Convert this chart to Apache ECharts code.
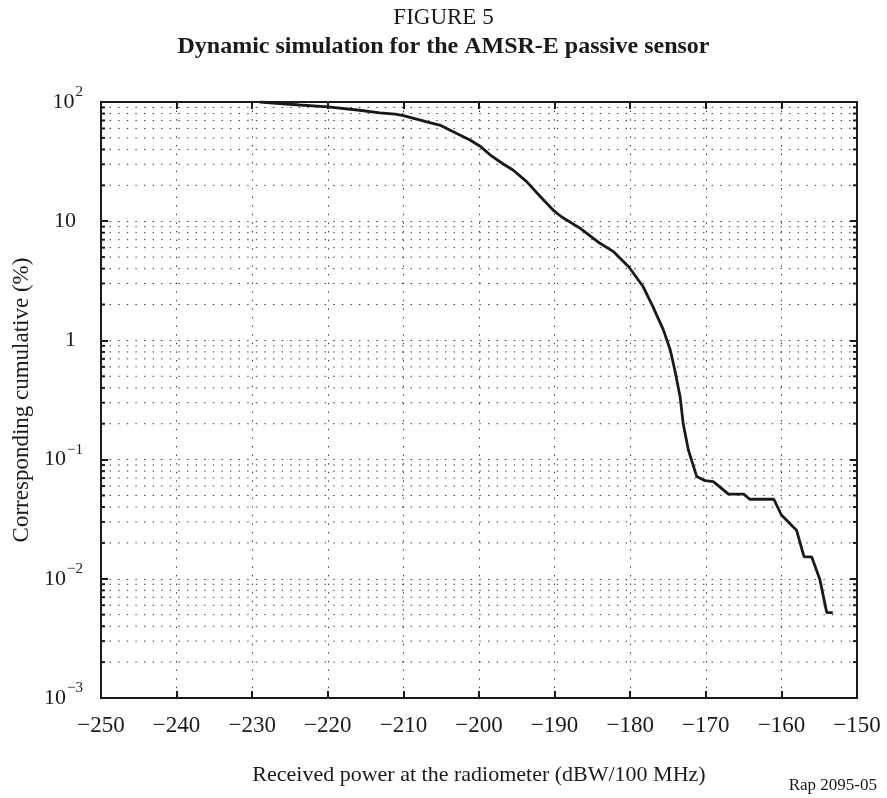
<!DOCTYPE html>
<html>
<head>
<meta charset="utf-8">
<script src="https://cdn.jsdelivr.net/npm/echarts@6/dist/echarts.min.js"></script>
<style>
  html, body { margin: 0; padding: 0; background: #fff; }
  #chart { width: 887px; height: 798px; }
</style>
</head>
<body>
<div id="chart"></div>
<script>
// Received power (dBW/100 MHz) and corresponding cumulative percentage
const powerDbw = [
  -229, -223.7, -220, -216.1, -213.1, -211.1, -210, -206.9, -205.2, -203,
  -201.2, -199.9, -198.5, -196.8, -195.5, -193.7, -191.9, -190.2, -189.1, -186.6,
  -184, -182.2, -180.2, -178.3, -177, -175.6, -174.7, -174.1, -173.4, -173,
  -172.3, -171.2, -170.1, -169, -167, -165, -164.2, -161, -160, -158,
  -157, -156, -154.9, -154, -153.2
];
const cumulativePct = [
  100, 94.4, 91, 85.7, 81, 79, 77, 68, 64, 54.6,
  48, 42.8, 35.9, 30.2, 26.9, 21.5, 16.1, 12.4, 10.9, 8.7,
  6.53, 5.55, 4.15, 2.83, 1.92, 1.22, 0.83, 0.565, 0.337, 0.202,
  0.12, 0.072, 0.0666, 0.0653, 0.0514, 0.0514, 0.0465, 0.0465, 0.0343, 0.0256,
  0.0153, 0.0153, 0.0098, 0.0052, 0.0052
];

const xMin = -250, xMax = -150, xStep = 10;
const yMin = 0.001, yMax = 100;
const decades = [0.001, 0.01, 0.1, 1, 10];
const minorMultipliers = [2, 3, 4, 5, 6, 7, 8, 9];

const minorValues = [];
decades.forEach(d => minorMultipliers.forEach(m => minorValues.push(+(d * m).toPrecision(3))));

const serif = '"Liberation Serif", "Times New Roman", serif';
const ink = '#1a1a1a';
const dotted = { color: '#333', width: 1, type: [1.4, 7.2] };

const chart = echarts.init(document.getElementById('chart'));

function yLabel(v) {
  const e = Math.round(Math.log10(v));
  if (e === 0) return '{p|1}';
  if (e === 1) return '{p|10}';
  return '10{sup|' + (e < 0 ? '\u2212' + (-e) : e) + '}';
}

chart.setOption({
  animation: false,
  backgroundColor: '#fff',
  title: [
    { text: 'FIGURE 5', left: 'center', top: 1,
      textStyle: { fontFamily: serif, fontWeight: 'normal', fontSize: 23, color: ink } },
    { text: 'Dynamic simulation for the AMSR-E passive sensor', left: 'center', top: 30,
      textStyle: { fontFamily: serif, fontWeight: 'bold', fontSize: 24, color: ink } }
  ],
  graphic: [
    { type: 'text', right: 10, top: 777,
      style: { text: 'Rap 2095-05', fontFamily: serif, fontSize: 17, fill: ink } }
  ],
  grid: { left: 101, right: 30, top: 102, bottom: 100, show: true,
          borderColor: ink, borderWidth: 2, backgroundColor: 'transparent' },
  xAxis: [
    { type: 'value', min: xMin, max: xMax, interval: xStep, position: 'bottom',
      name: 'Received power at the radiometer (dBW/100 MHz)',
      nameLocation: 'middle', nameGap: 66,
      nameTextStyle: { fontFamily: serif, fontSize: 22, color: ink },
      axisLine: { show: true, lineStyle: { color: ink, width: 2 } },
      axisTick: { show: true, inside: true, length: 7, lineStyle: { color: ink, width: 2 } },
      axisLabel: { fontFamily: serif, fontSize: 23, color: ink, margin: 16,
        formatter: v => String(v).replace('-', '\u2212') },
      splitLine: { show: true, lineStyle: dotted } },
    { type: 'value', min: xMin, max: xMax, interval: xStep, position: 'top',
      axisLine: { show: true, lineStyle: { color: ink, width: 2 } },
      axisTick: { show: true, inside: true, length: 7, lineStyle: { color: ink, width: 2 } },
      axisLabel: { show: false }, splitLine: { show: false } }
  ],
  yAxis: [
    { type: 'log', logBase: 10, min: yMin, max: yMax, position: 'left',
      name: 'Corresponding cumulative (%)', nameLocation: 'middle', nameGap: 67,
      nameTextStyle: { fontFamily: serif, fontSize: 23, color: ink },
      axisLine: { show: true, lineStyle: { color: ink, width: 2 } },
      axisTick: { show: true, inside: true, length: 7, lineStyle: { color: ink, width: 2 } },
      axisLabel: { fontFamily: serif, fontSize: 22, color: ink, margin: 18,
        formatter: yLabel,
        rich: {
          p: { fontFamily: serif, fontSize: 22, color: ink, padding: [0, 7, 0, 0] },
          sup: { fontFamily: serif, fontSize: 15, verticalAlign: 'top', padding: [0, 0, 20, 1], color: ink }
        } },
      splitLine: { show: true, lineStyle: dotted } },
    { type: 'log', logBase: 10, min: yMin, max: yMax, position: 'right',
      axisLine: { show: true, lineStyle: { color: ink, width: 2 } },
      axisTick: { show: true, inside: true, length: 7, lineStyle: { color: ink, width: 2 } },
      axisLabel: { show: false }, splitLine: { show: false } }
  ],
  series: [
    {
      // minor log grid lines and the short minor ticks on both vertical axes
      type: 'custom', silent: true, z: 1,
      data: minorValues.map(v => [xMin, v]),
      encode: { x: 0, y: 1 },
      renderItem: function (params, api) {
        const v = api.value(1);
        const a = api.coord([xMin, v]);
        const b = api.coord([xMax, v]);
        return {
          type: 'group',
          children: [
            { type: 'line', shape: { x1: a[0], y1: a[1], x2: b[0], y2: b[1] },
              style: { stroke: dotted.color, lineWidth: 1, lineDash: dotted.type } },
            { type: 'line', shape: { x1: a[0], y1: a[1], x2: a[0] + 4, y2: a[1] },
              style: { stroke: ink, lineWidth: 2 } },
            { type: 'line', shape: { x1: b[0], y1: b[1], x2: b[0] - 4, y2: b[1] },
              style: { stroke: ink, lineWidth: 2 } }
          ]
        };
      }
    },
    {
      type: 'line', z: 3,
      data: powerDbw.map((x, i) => [x, cumulativePct[i]]),
      showSymbol: false, smooth: false,
      lineStyle: { color: ink, width: 2.8 }
    }
  ]
});
</script>
</body>
</html>
